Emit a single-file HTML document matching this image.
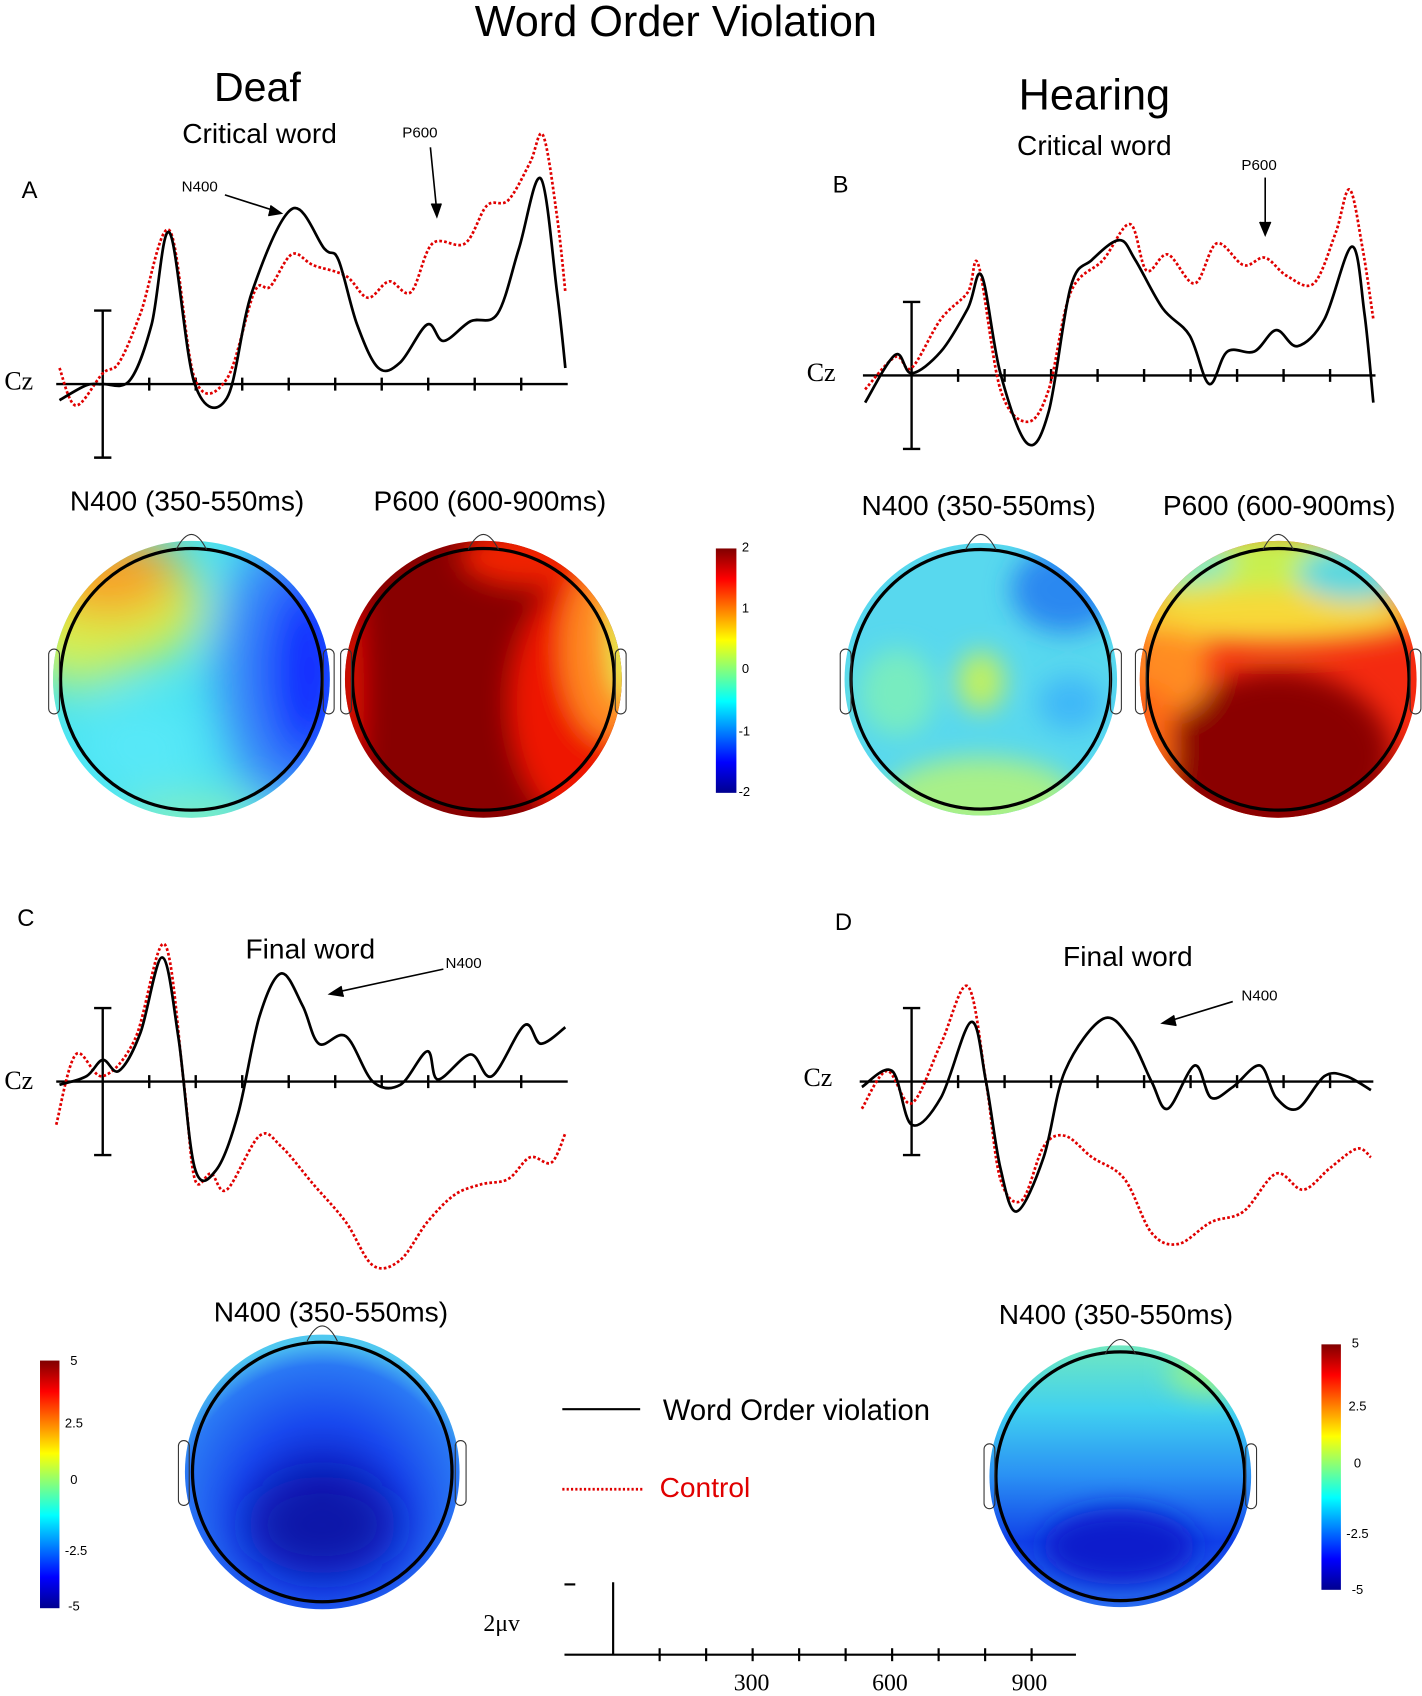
<!DOCTYPE html>
<html><head><meta charset="utf-8"><style>
html,body{margin:0;padding:0;background:#fff;}
svg{display:block;}
.sans{font-family:"Liberation Sans",Arial,sans-serif;}
.serif{font-family:"Liberation Serif","Times New Roman",serif;}
</style></head><body>
<svg id="fig" width="1422" height="1696" viewBox="0 0 1315 1568" xmlns="http://www.w3.org/2000/svg">
<defs>
  <linearGradient id="jet" x1="0" y1="0" x2="0" y2="1">
    <stop offset="0" stop-color="#800000"/><stop offset="0.125" stop-color="#ff0000"/>
    <stop offset="0.375" stop-color="#ffff00"/><stop offset="0.5" stop-color="#80ff80"/>
    <stop offset="0.625" stop-color="#00ffff"/><stop offset="0.875" stop-color="#0000ff"/>
    <stop offset="1" stop-color="#00008f"/>
  </linearGradient>
  <filter id="blur" x="-50%" y="-50%" width="200%" height="200%"><feGaussianBlur stdDeviation="22"/></filter>
  <filter id="blur2" x="-50%" y="-50%" width="200%" height="200%"><feGaussianBlur stdDeviation="12"/></filter>
  <radialGradient id="cGrad" cx="0.5" cy="0.62" r="0.6"><stop offset="0" stop-color="#0a18b8"/><stop offset="0.5" stop-color="#1848ee"/><stop offset="0.85" stop-color="#2a78f4"/><stop offset="1" stop-color="#50c8f0"/></radialGradient>
  <linearGradient id="dGrad" x1="0" y1="0" x2="0" y2="1"><stop offset="0" stop-color="#70e8c0"/><stop offset="0.25" stop-color="#40d0f0"/><stop offset="0.5" stop-color="#2a90f4"/><stop offset="0.75" stop-color="#1040e8"/><stop offset="1" stop-color="#2a70f0"/></linearGradient>
  <clipPath id="clA1"><circle cx="177" cy="628" r="128"/></clipPath>
  <clipPath id="clA2"><circle cx="447" cy="628" r="128"/></clipPath>
  <clipPath id="clB1"><circle cx="907" cy="628" r="126"/></clipPath>
  <clipPath id="clB2"><circle cx="1182" cy="628" r="128"/></clipPath>
  <clipPath id="clC"><circle cx="298" cy="1361" r="127"/></clipPath>
  <clipPath id="clD"><circle cx="1036" cy="1365" r="121"/></clipPath>
</defs>

<text class="sans" x="625" y="33" font-size="40" text-anchor="middle">Word Order Violation</text>
<text class="sans" x="238" y="93" font-size="38" text-anchor="middle">Deaf</text>
<text class="sans" x="240" y="132" font-size="26" text-anchor="middle">Critical word</text>
<text class="sans" x="1012" y="101" font-size="40" text-anchor="middle">Hearing</text>
<text class="sans" x="1012" y="143" font-size="26" text-anchor="middle">Critical word</text>
<text class="sans" x="20" y="183" font-size="22">A</text>
<text class="sans" x="770" y="178" font-size="22">B</text>
<text class="sans" x="16" y="856" font-size="22">C</text>
<text class="sans" x="772" y="860" font-size="22">D</text>

<g stroke="#000" stroke-width="1.5" fill="none">
  <line x1="208" y1="180" x2="258" y2="196"/><path d="M250 190 L260 197 L248 199" fill="#000"/>
  <line x1="398" y1="136" x2="404" y2="196"/><path d="M399 188 L404 200 L408 188" fill="#000"/>
  <line x1="1170" y1="164" x2="1170" y2="214"/><path d="M1165 205 L1170 217 L1175 205" fill="#000"/>
  <line x1="410" y1="896" x2="308" y2="918"/><path d="M316 912 L305 919 L318 921" fill="#000"/>
  <line x1="1140" y1="926" x2="1078" y2="945"/><path d="M1086 939 L1075 946 L1088 948" fill="#000"/>
</g>
<text class="sans" x="168" y="177" font-size="14">N400</text>
<text class="sans" x="372" y="127" font-size="14">P600</text>
<text class="sans" x="1148" y="157" font-size="14">P600</text>
<text class="sans" x="287" y="886" font-size="26" text-anchor="middle">Final word</text>
<text class="sans" x="412" y="895" font-size="14">N400</text>
<text class="sans" x="1043" y="893" font-size="26" text-anchor="middle">Final word</text>
<text class="sans" x="1148" y="925" font-size="14">N400</text>

<text class="sans" x="173" y="472" font-size="26" text-anchor="middle">N400 (350-550ms)</text>
<text class="sans" x="453" y="472" font-size="26" text-anchor="middle">P600 (600-900ms)</text>
<text class="sans" x="905" y="476" font-size="26" text-anchor="middle">N400 (350-550ms)</text>
<text class="sans" x="1183" y="476" font-size="26" text-anchor="middle">P600 (600-900ms)</text>
<text class="sans" x="306" y="1222" font-size="26" text-anchor="middle">N400 (350-550ms)</text>
<text class="sans" x="1032" y="1224" font-size="26" text-anchor="middle">N400 (350-550ms)</text>

<g>
  <g clip-path="url(#clA1)">
    <rect x="40" y="490" width="280" height="280" fill="#48e4f0"/>
    <g filter="url(#blur)">
      <ellipse cx="70" cy="600" rx="50" ry="40" fill="#a0f088"/>
      <ellipse cx="90" cy="560" rx="100" ry="60" fill="#d8f048"/>
      <ellipse cx="100" cy="530" rx="65" ry="40" fill="#f8a028"/>
      <ellipse cx="130" cy="690" rx="60" ry="40" fill="#58e8f8"/>
      <ellipse cx="270" cy="620" rx="70" ry="130" fill="#3a88f8"/>
      <ellipse cx="285" cy="620" rx="40" ry="90" fill="#0a28ff"/>
      <ellipse cx="180" cy="760" rx="70" ry="20" fill="#90f0b0"/>
    </g>
  </g>
  <circle cx="177" cy="628" r="121" fill="none" stroke="#000" stroke-width="3"/>
  <path d="M163 508 Q177 480 191 508" fill="none" stroke="#333" stroke-width="1"/>
  <rect x="45" y="600" width="10" height="60" rx="5" fill="none" stroke="#333" stroke-width="1"/>
  <rect x="299" y="600" width="10" height="60" rx="5" fill="none" stroke="#333" stroke-width="1"/>
</g>
<g>
  <g clip-path="url(#clA2)">
    <rect x="310" y="490" width="280" height="280" fill="#880000"/>
    <g filter="url(#blur2)">
      <ellipse cx="555" cy="650" rx="85" ry="125" fill="#ee1800"/>
      <ellipse cx="490" cy="515" rx="65" ry="28" fill="#f02000"/>
      <ellipse cx="565" cy="600" rx="45" ry="85" fill="#ff8820"/>
      <ellipse cx="580" cy="590" rx="18" ry="60" fill="#e0f050"/>
      <ellipse cx="325" cy="640" rx="12" ry="100" fill="#e81000"/>
    </g>
  </g>
  <circle cx="447" cy="628" r="121" fill="none" stroke="#000" stroke-width="3"/>
  <path d="M433 508 Q447 480 461 508" fill="none" stroke="#333" stroke-width="1"/>
  <rect x="315" y="600" width="10" height="60" rx="5" fill="none" stroke="#333" stroke-width="1"/>
  <rect x="569" y="600" width="10" height="60" rx="5" fill="none" stroke="#333" stroke-width="1"/>
</g>
<g>
  <g clip-path="url(#clB1)">
    <rect x="770" y="490" width="280" height="280" fill="#58d8ee"/>
    <g filter="url(#blur2)">
      <ellipse cx="985" cy="545" rx="50" ry="40" fill="#2a88f0"/>
      <ellipse cx="990" cy="650" rx="30" ry="25" fill="#40b8f8"/>
      <ellipse cx="907" cy="630" rx="22" ry="28" fill="#c0f060"/>
      <ellipse cx="907" cy="740" rx="90" ry="40" fill="#a8f088"/>
      <ellipse cx="830" cy="640" rx="35" ry="40" fill="#78ecc0"/>
    </g>
  </g>
  <circle cx="907" cy="628" r="120" fill="none" stroke="#000" stroke-width="3"/>
  <path d="M893 508 Q907 480 921 508" fill="none" stroke="#333" stroke-width="1"/>
  <rect x="777" y="600" width="10" height="60" rx="5" fill="none" stroke="#333" stroke-width="1"/>
  <rect x="1027" y="600" width="10" height="60" rx="5" fill="none" stroke="#333" stroke-width="1"/>
</g>
<g>
  <g clip-path="url(#clB2)">
    <rect x="1045" y="490" width="280" height="280" fill="#f42a10"/>
    <g filter="url(#blur2)">
      <ellipse cx="1182" cy="700" rx="105" ry="80" fill="#8a0000"/>
      <ellipse cx="1182" cy="525" rx="150" ry="35" fill="#c8f050"/>
      <ellipse cx="1175" cy="570" rx="140" ry="25" fill="#f8d838"/>
      <ellipse cx="1080" cy="620" rx="40" ry="40" fill="#ff8c20"/>
      <ellipse cx="1250" cy="530" rx="50" ry="25" fill="#58d8e0"/>
      <ellipse cx="1100" cy="520" rx="40" ry="20" fill="#88e8c0"/>
      <ellipse cx="1065" cy="690" rx="20" ry="60" fill="#ff6a18"/>
    </g>
  </g>
  <circle cx="1182" cy="628" r="121" fill="none" stroke="#000" stroke-width="3"/>
  <path d="M1168 508 Q1182 480 1196 508" fill="none" stroke="#333" stroke-width="1"/>
  <rect x="1050" y="600" width="10" height="60" rx="5" fill="none" stroke="#333" stroke-width="1"/>
  <rect x="1304" y="600" width="10" height="60" rx="5" fill="none" stroke="#333" stroke-width="1"/>
</g>
<g>
  <circle cx="298" cy="1361" r="127" fill="url(#cGrad)"/>
  <g clip-path="url(#clC)" filter="url(#blur)">
    <ellipse cx="298" cy="1410" rx="70" ry="45" fill="#0a12a8"/>
  </g>
  <circle cx="298" cy="1361" r="120" fill="none" stroke="#000" stroke-width="3"/>
  <path d="M284 1240 Q298 1212 312 1240" fill="none" stroke="#333" stroke-width="1"/>
  <rect x="165" y="1332" width="10" height="60" rx="5" fill="none" stroke="#333" stroke-width="1"/>
  <rect x="421" y="1332" width="10" height="60" rx="5" fill="none" stroke="#333" stroke-width="1"/>
</g>
<g>
  <circle cx="1036" cy="1365" r="121" fill="url(#dGrad)"/>
  <g clip-path="url(#clD)" filter="url(#blur2)">
    <ellipse cx="1035" cy="1430" rx="70" ry="35" fill="#0a1ccc"/>
    <ellipse cx="1120" cy="1270" rx="40" ry="20" fill="#90f090"/>
  </g>
  <circle cx="1036" cy="1365" r="115" fill="none" stroke="#000" stroke-width="3"/>
  <path d="M1022 1252 Q1036 1225 1050 1252" fill="none" stroke="#333" stroke-width="1"/>
  <rect x="910" y="1335" width="10" height="60" rx="5" fill="none" stroke="#333" stroke-width="1"/>
  <rect x="1152" y="1335" width="10" height="60" rx="5" fill="none" stroke="#333" stroke-width="1"/>
</g>

<g class="sans" font-size="12">
  <rect x="662" y="507" width="19" height="226" fill="url(#jet)"/>
  <text x="686" y="510">2</text><text x="686" y="566">1</text><text x="686" y="622">0</text><text x="683" y="680">-1</text><text x="683" y="736">-2</text>
</g>
<g class="sans" font-size="12">
  <rect x="37" y="1258" width="18" height="229" fill="url(#jet)"/>
  <text x="65" y="1262">5</text><text x="60" y="1320">2.5</text><text x="65" y="1372">0</text><text x="60" y="1438">-2.5</text><text x="63" y="1489">-5</text>
</g>
<g class="sans" font-size="12">
  <rect x="1222" y="1243" width="18" height="227" fill="url(#jet)"/>
  <text x="1250" y="1246">5</text><text x="1247" y="1304">2.5</text><text x="1252" y="1357">0</text><text x="1245" y="1422">-2.5</text><text x="1250" y="1474">-5</text>
</g>

<g>
  <line x1="520" y1="1303" x2="592" y2="1303" stroke="#000" stroke-width="2"/>
  <text class="sans" x="613" y="1313" font-size="27">Word Order violation</text>
  <line x1="520" y1="1377" x2="595" y2="1377" stroke="#e00000" stroke-width="2.5" stroke-dasharray="2,2"/>
  <text class="sans" x="610" y="1384" font-size="26" fill="#e00000">Control</text>
</g>

<g stroke="#000" stroke-width="2">
  <line x1="567" y1="1463" x2="567" y2="1530"/>
  <line x1="522" y1="1465" x2="532" y2="1465"/>
  <line x1="522" y1="1530" x2="995" y2="1530"/>
  <g id="scaleTicks"></g>
</g>
<text class="serif" x="447" y="1508" font-size="22">2μv</text>
<text class="serif" x="695" y="1563" font-size="22" text-anchor="middle">300</text>
<text class="serif" x="823" y="1563" font-size="22" text-anchor="middle">600</text>
<text class="serif" x="952" y="1563" font-size="22" text-anchor="middle">900</text>

<text class="serif" x="4" y="360" font-size="24">Cz</text>
<text class="serif" x="746" y="352" font-size="24">Cz</text>
<text class="serif" x="4" y="1007" font-size="24">Cz</text>
<text class="serif" x="743" y="1004" font-size="24">Cz</text>

<g id="erp"></g>
</svg>
<script>
const aTimesViol = [-93,-35,0,58,105,144,198,267,321,407,477,507,547,593,640,698,733,791,849,895,942,977,995];
const aViol = [-0.45,-0.03,0,0.1,1.67,4.24,0,-0.39,2.58,4.91,3.79,3.48,1.67,0.45,0.61,1.67,1.21,1.76,1.97,3.79,5.76,2.58,0.45];
const aTimesCtrl = [-93,-58,0,35,81,144,198,267,326,360,407,453,523,570,616,663,709,779,826,872,919,947,977,995];
const aCtrl = [0.45,-0.6,0.3,0.6,1.97,4.3,0.15,0.15,2.58,2.73,3.64,3.33,3.03,2.42,2.88,2.58,3.94,3.94,5,5.15,6.21,6.97,4.7,2.58];
const bTimesViol = [-100,-35,0,63,121,151,191,249,295,342,388,447,481,540,598,640,679,737,784,830,888,947,974,993];
const bViol = [-0.76,0.58,0.06,0.67,1.88,2.79,0.06,-1.91,-1,2.48,3.24,3.79,3.24,1.88,1.12,-0.24,0.67,0.67,1.27,0.82,1.58,3.61,1.73,-0.76];
const bTimesCtrl = [-100,-35,0,63,121,144,191,249,295,342,412,470,505,551,609,656,714,760,807,865,912,942,970,993];
const bCtrl = [-0.39,0.52,0.21,1.58,2.33,3.09,-0.39,-1.3,-0.39,2.33,3.24,4.24,2.94,3.39,2.58,3.7,3.09,3.3,2.79,2.58,4,5.21,3.55,1.58];
const cTimesViol = [-93,-35,0,35,81,128,163,198,244,291,337,384,430,465,523,581,640,698,721,791,837,907,942,995];
const cViol = [-0.09,0.15,0.61,0.3,1.36,3.48,1.21,-2.42,-2.48,-0.91,1.82,3.03,2.12,1.06,1.27,0,-0.09,0.85,0.06,0.76,0.15,1.58,1.06,1.52];
const cTimesCtrl = [-100,-58,0,70,133,174,198,233,267,337,384,453,523,581,640,698,756,814,872,919,965,995];
const cCtrl = [-1.21,0.76,0.15,1.21,3.85,0,-2.73,-2.58,-3.03,-1.52,-1.82,-2.88,-3.94,-5.15,-5,-3.94,-3.18,-2.88,-2.73,-2.12,-2.27,-1.45];
const dTimesViol = [-107,-42,0,63,128,160,191,226,284,330,412,470,516,551,609,644,691,749,784,830,888,935,988];
const dViol = [-0.15,0.3,-1.21,-0.45,1.67,0,-2.42,-3.64,-2.12,0.3,1.76,1.21,0,-0.76,0.45,-0.45,-0.15,0.45,-0.45,-0.76,0.15,0.15,-0.24];
const dTimesCtrl = [-107,-53,0,63,121,160,191,237,284,330,388,458,516,574,644,714,784,842,900,958,988];
const dCtrl = [-0.76,0.3,-0.61,1.06,2.67,0,-2.73,-3.33,-1.82,-1.52,-2.12,-2.73,-4.24,-4.55,-3.94,-3.64,-2.58,-3.03,-2.42,-1.88,-2.12];
const tickTimes = [0,100,200,300,400,500,600,700,800,900];

const NS = "http://www.w3.org/2000/svg";
const pxPerMs = 0.43, pxPerUv = 33;
const panels = [
  {id:'a', x0:95, y0:355, xs:52, xe:525, tv:aTimesViol, v:aViol, tc:aTimesCtrl, c:aCtrl},
  {id:'b', x0:843, y0:347, xs:798, xe:1272, tv:bTimesViol, v:bViol, tc:bTimesCtrl, c:bCtrl},
  {id:'c', x0:95, y0:1000, xs:52, xe:525, tv:cTimesViol, v:cViol, tc:cTimesCtrl, c:cCtrl},
  {id:'d', x0:843, y0:1000, xs:795, xe:1270, tv:dTimesViol, v:dViol, tc:dTimesCtrl, c:dCtrl}
];
function smoothPath(pts){
  let d = "M"+pts[0][0].toFixed(1)+" "+pts[0][1].toFixed(1);
  for(let i=0;i<pts.length-1;i++){
    const p0=pts[Math.max(0,i-1)], p1=pts[i], p2=pts[i+1], p3=pts[Math.min(pts.length-1,i+2)];
    const c1=[p1[0]+(p2[0]-p0[0])/6, p1[1]+(p2[1]-p0[1])/6];
    const c2=[p2[0]-(p3[0]-p1[0])/6, p2[1]-(p3[1]-p1[1])/6];
    d += " C"+c1[0].toFixed(1)+" "+c1[1].toFixed(1)+" "+c2[0].toFixed(1)+" "+c2[1].toFixed(1)+" "+p2[0].toFixed(1)+" "+p2[1].toFixed(1);
  }
  return d;
}
const root = document.getElementById('erp');
panels.forEach(p=>{
  const xS = t => p.x0 + t*pxPerMs;
  const yS = v => p.y0 - v*pxPerUv;
  const g = document.createElementNS(NS,'g');
  
  
  root.appendChild(g);
  const ax = document.createElementNS(NS,'path');
  let d = "M"+p.xs+" "+p.y0+" H"+p.xe+" M"+p.x0+" "+(p.y0-68)+" V"+(p.y0+68)+" M"+(p.x0-8)+" "+(p.y0-68)+" H"+(p.x0+8)+" M"+(p.x0-8)+" "+(p.y0+68)+" H"+(p.x0+8);
  tickTimes.forEach(t=>{ if(t>0) d += " M"+xS(t)+" "+(p.y0-6)+" V"+(p.y0+6); });
  ax.setAttribute('d', d);
  ax.setAttribute('stroke','#000'); ax.setAttribute('stroke-width','2.2'); ax.setAttribute('fill','none');
  
  
  g.appendChild(ax);
  const ctrl = document.createElementNS(NS,'path');
  ctrl.setAttribute('d', smoothPath(p.tc.map((t,i)=>[xS(t), yS(p.c[i])])));
  ctrl.setAttribute('stroke','#e00000'); ctrl.setAttribute('stroke-width','2.5'); ctrl.setAttribute('fill','none');
  ctrl.setAttribute('stroke-dasharray','2.5,2');
  
  
  g.appendChild(ctrl);
  const viol = document.createElementNS(NS,'path');
  viol.setAttribute('d', smoothPath(p.tv.map((t,i)=>[xS(t), yS(p.v[i])])));
  viol.setAttribute('stroke','#000'); viol.setAttribute('stroke-width','2.5'); viol.setAttribute('fill','none');
  
  
  g.appendChild(viol);
});
const st = document.getElementById('scaleTicks');
tickTimes.forEach(t=>{
  if(t===0) return;
  const l = document.createElementNS(NS,'line');
  const x = 567 + t*pxPerMs;
  l.setAttribute('x1',x); l.setAttribute('x2',x); l.setAttribute('y1',1524); l.setAttribute('y2',1536);
  
  
  st.appendChild(l);
});
</script>
</body></html>
